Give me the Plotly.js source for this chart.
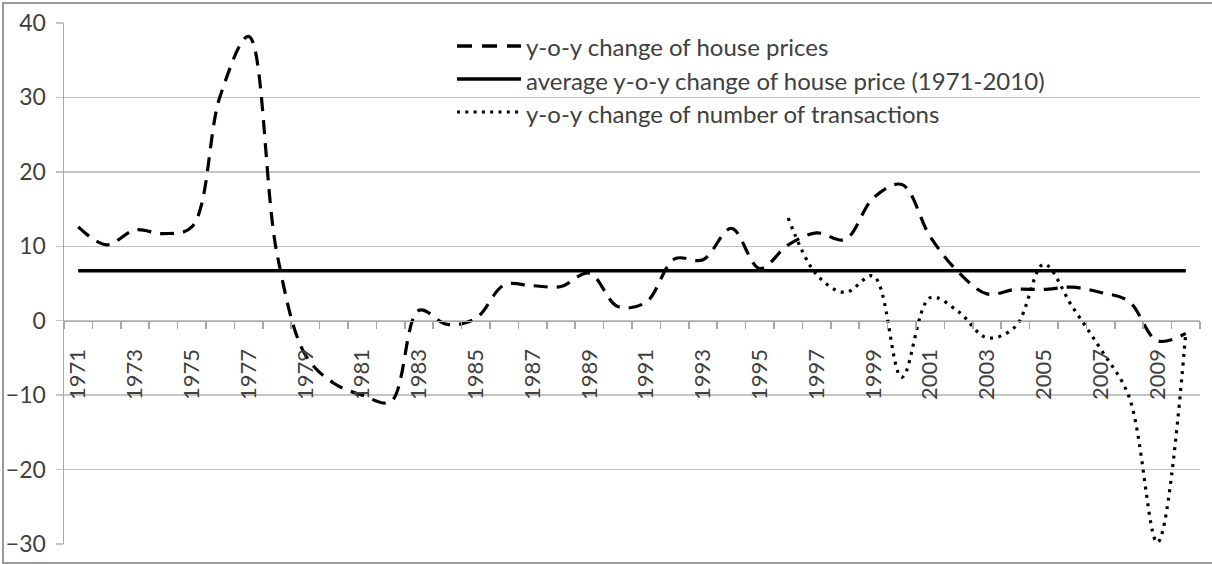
<!DOCTYPE html>
<html>
<head>
<meta charset="utf-8">
<script src="https://cdn.plot.ly/plotly-3.0.1.min.js"></script>
<style>
  html, body { margin: 0; padding: 0; background: #fff; }
  #wrap { position: relative; width: 1212px; height: 564px; }
  #chart { position: absolute; left: 0; top: 0; width: 1212px; height: 564px; }
  #frame { position: absolute; left: 2px; top: 2px; width: 1210px; height: 558px;
           border-left: 2px solid #9a9a9a; border-top: 2px solid #9a9a9a; border-bottom: 2px solid #9a9a9a;
           pointer-events: none; }
</style>
</head>
<body>
<div id="wrap"><div id="chart"></div><div id="frame"></div></div>
<script>
// ---- data ----
const years = [1971,1972,1973,1974,1975,1976,1977,1978,1979,1980,
               1981,1982,1983,1984,1985,1986,1987,1988,1989,1990,
               1991,1992,1993,1994,1995,1996,1997,1998,1999,2000,
               2001,2002,2003,2004,2005,2006,2007,2008,2009,2010];

const housePriceChange = [12.6,10.2,12.2,11.7,12.6,30.2,38.2,9.0,-4.6,-8.4,
                          -10.0,-10.9,1.4,-0.5,0.3,4.8,4.7,4.6,6.4,1.9,
                          2.5,8.3,8.2,12.4,7.0,10.2,11.8,10.9,16.5,18.3,
                          11.3,6.5,3.6,4.2,4.2,4.5,3.8,2.6,-2.7,-1.7];

const avgYears = [1971, 2010];
const avgHousePriceChange = [6.7, 6.7];

const transactionsChange = [null,null,null,null,null,null,null,null,null,null,
                            null,null,null,null,null,null,null,null,null,null,
                            null,null,null,null,null,13.8,6.2,3.8,6.0,-7.6,
                            3.1,1.2,-2.3,-0.8,7.6,1.9,-3.8,-10.2,-29.8,-1.6];

const seriesNames = ["y-o-y change of house prices",
                     "average y-o-y change of house price (1971-2010)",
                     "y-o-y change of number of transactions"];

const tickYears = [1971,1973,1975,1977,1979,1981,1983,1985,1987,1989,
                   1991,1993,1995,1997,1999,2001,2003,2005,2007,2009];
const tickLabels = tickYears.map(String);
const yTicks = [-30,-20,-10,0,10,20,30,40];

// ---- styling ----
const FONT = "Lato, 'Open Sans', sans-serif";
const TXT = "#404040";
const GRID = "#c4c4c4";
const AXIS = "#a8a8a8";
const DASH = "14px,9px";
const DOT = "3px,5.5px";

const traces = [
  { x: years, y: housePriceChange, type: "scatter", mode: "lines", name: seriesNames[0],
    line: { color: "#000", width: 3.2, dash: DASH, shape: "spline", smoothing: 1 }, hoverinfo: "skip" },
  { x: avgYears, y: avgHousePriceChange, type: "scatter", mode: "lines", name: seriesNames[1],
    line: { color: "#000", width: 3.5 }, hoverinfo: "skip" },
  { x: years, y: transactionsChange, type: "scatter", mode: "lines", name: seriesNames[2],
    connectgaps: false,
    line: { color: "#000", width: 3.2, dash: DOT, shape: "spline", smoothing: 1 }, hoverinfo: "skip" }
];

// custom legend (paper coords of plot area)
const L = 64, R = 1200, T = 23, B = 544;
const px = v => (v - L) / (R - L);
const py = v => (B - v) / (B - T);
const legendRows = [46, 79, 112];
const legendStyles = [
  { width: 3.4, dash: "15px,10px" },
  { width: 3.5, dash: "solid" },
  { width: 3.2, dash: "3px,5.3px" }
];
const shapes = legendRows.map((yy, i) => ({
  type: "line", xref: "paper", yref: "paper",
  x0: px(457), x1: px(521), y0: py(yy), y1: py(yy),
  line: { color: "#000", width: legendStyles[i].width, dash: legendStyles[i].dash }
}));
const annotations = legendRows.map((yy, i) => ({
  xref: "paper", yref: "paper", x: px(524), y: py(yy + 1),
  xanchor: "left", yanchor: "middle", showarrow: false,
  text: seriesNames[i], font: { family: FONT, size: 24, color: TXT }
}));

const layout = {
  width: 1212, height: 564,
  margin: { l: L, r: 1212 - R, t: T, b: 564 - B, pad: 0 },
  paper_bgcolor: "#fff", plot_bgcolor: "#fff",
  showlegend: false,
  font: { family: FONT, size: 22, color: TXT },
  xaxis: {
    type: "linear", range: [1970.5, 2010.5], fixedrange: true,
    anchor: "free", position: 30 / 70, side: "bottom",
    showgrid: false, zeroline: false,
    showline: true, linecolor: AXIS, linewidth: 1.5,
    tickmode: "array", tickvals: tickYears, ticktext: tickLabels,
    tickangle: -90, ticks: "outside", ticklen: 8, tickcolor: "rgba(0,0,0,0)",
    ticklabelstandoff: 10,
    tickfont: { family: FONT, size: 22, color: TXT },
    minor: { tickmode: "linear", tick0: 1970.5, dtick: 1, ticks: "outside", ticklen: 7,
             tickcolor: AXIS, tickwidth: 1.5, showgrid: false }
  },
  yaxis: {
    range: [-30, 40], fixedrange: true,
    tickmode: "array", tickvals: yTicks,
    showgrid: true, gridcolor: GRID, gridwidth: 1.5,
    zeroline: false,
    showline: true, linecolor: AXIS, linewidth: 1.5,
    ticks: "outside", ticklen: 7, tickcolor: GRID, tickwidth: 1.5,
    ticklabelstandoff: 5,
    tickfont: { family: FONT, size: 23, color: TXT }
  },
  shapes: shapes,
  annotations: annotations
};

Plotly.newPlot("chart", traces, layout, { staticPlot: true, displayModeBar: false });
</script>
</body>
</html>
